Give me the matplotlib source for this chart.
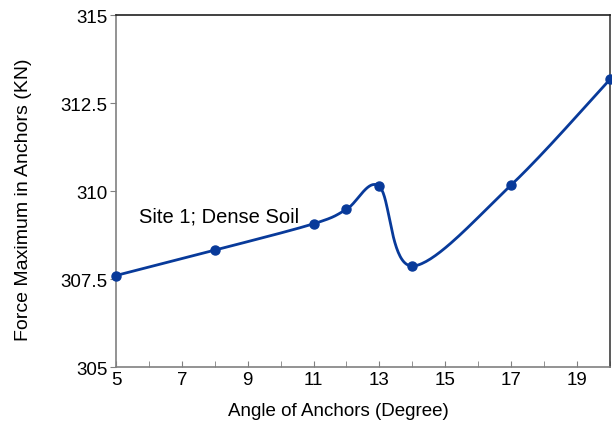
import numpy as np
import matplotlib
matplotlib.use("Agg")
import matplotlib.pyplot as plt
from matplotlib.ticker import MultipleLocator

angles = [5, 8, 11, 12, 13, 14, 17, 20]
forces = [307.6, 308.32, 309.07, 309.48, 310.13, 307.87, 310.17, 313.17]
x_ticks = [5, 7, 9, 11, 13, 15, 17, 19]
y_ticks = [305, 307.5, 310, 312.5, 315]
y_ticklabels = ['305', '307.5', '310', '312.5', '315']
label_text = "Site 1; Dense Soil"

plt.rcParams['font.family'] = ['Liberation Sans', 'DejaVu Sans']

def smooth(xs, ys, n=40):
    xs = np.asarray(xs, float); ys = np.asarray(ys, float)
    P = np.column_stack([xs, ys])
    out = []
    for i in range(len(P) - 1):
        p0 = P[i - 1] if i > 0 else P[i]
        p1 = P[i]; p2 = P[i + 1]
        p3 = P[i + 2] if i + 2 < len(P) else P[i + 1]
        c1 = p1 + (p2 - p0) / 6.0
        c2 = p2 - (p3 - p1) / 6.0
        t = np.linspace(0, 1, n)[:, None]
        seg = (1 - t) ** 3 * p1 + 3 * (1 - t) ** 2 * t * c1 + 3 * (1 - t) * t ** 2 * c2 + t ** 3 * p2
        out.append(seg if i == 0 else seg[1:])
    s = np.vstack(out)
    return s[:, 0], s[:, 1]

fig = plt.figure(figsize=(6.12, 4.35), dpi=100)
ax = fig.add_axes([0.1895, 0.154, 0.807, 0.809])

color = '#083A9A'
sx, sy = smooth(angles, forces)
ax.plot(sx, sy, color=color, lw=2.0, solid_capstyle='round', clip_on=False, zorder=3)
ax.plot(angles, forces, 'o', color=color, ms=6.5, clip_on=False, zorder=4)

ax.set_xlim(5, 20)
ax.set_ylim(305, 315)
ax.xaxis.set_minor_locator(MultipleLocator(1))
ax.set_xticks(x_ticks)
ax.set_yticks(y_ticks)
ax.set_yticklabels(y_ticklabels)

for s in ['left', 'bottom']:
    ax.spines[s].set_color('#808080')
    ax.spines[s].set_linewidth(1.2)
ax.spines['top'].set_color('#202020')
ax.spines['top'].set_linewidth(1.2)
ax.spines['right'].set_color('#404040')
ax.spines['right'].set_linewidth(1.2)

ax.tick_params(axis='x', which='both', direction='in', length=4, color='#808080',
               labelsize=13.5, pad=3)
ax.tick_params(axis='y', which='both', direction='out', length=4, color='#808080',
               labelsize=13.5, pad=2)

fig.text(338 / 612, 1 - 412 / 435, 'Angle of Anchors (Degree)', fontsize=13.5,
         ha='center', va='center')
fig.text(24 / 612, 1 - 200 / 435, 'Force Maximum in Anchors (KN)', fontsize=14,
         ha='center', va='center', rotation=90)

ax.text(5.7, 309.29, label_text, fontsize=14.5, va='center', ha='left')

fig.savefig('out.png', dpi=100)
